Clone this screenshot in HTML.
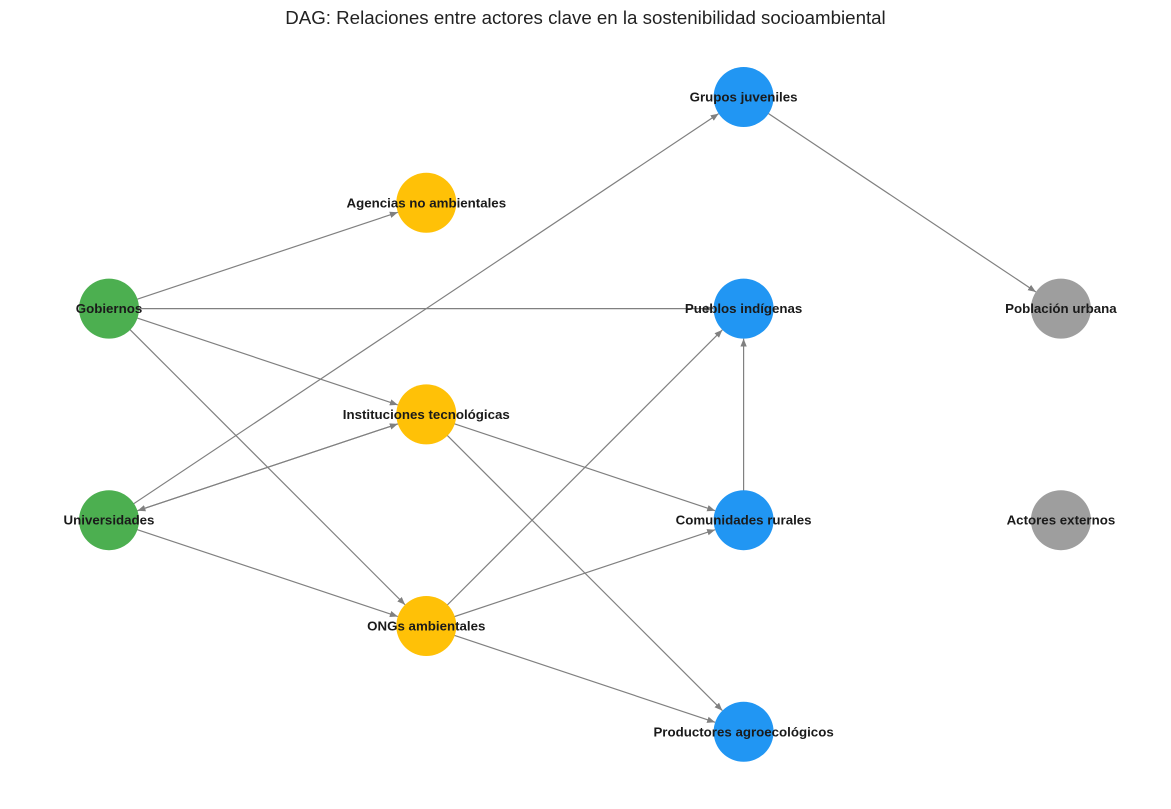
<!DOCTYPE html>
<html><head><meta charset="utf-8"><style>
html,body{margin:0;padding:0;background:#fff;}
svg{display:block;font-family:"Liberation Sans","DejaVu Sans",sans-serif;}
</style></head><body>
<svg id="chart" width="1171" height="809" viewBox="0 0 1171 809">
<defs><marker id="arr" viewBox="0 0 10 10" refX="10" refY="5" markerWidth="8" markerHeight="8" markerUnits="userSpaceOnUse" orient="auto"><path d="M0,1 L10,5 L0,9 z" fill="#808080"/></marker></defs>
<text x="585.5" y="24" text-anchor="middle" font-size="18.7" fill="#222">DAG: Relaciones entre actores clave en la sostenibilidad socioambiental</text>
<g id="edges"></g><g id="nodes"></g>
</svg>
<script>
const nodeNames = ["Gobiernos","Universidades","Agencias no ambientales","Instituciones tecnológicas","ONGs ambientales","Grupos juveniles","Pueblos indígenas","Comunidades rurales","Productores agroecológicos","Población urbana","Actores externos"];
const nodeLayer = [0,0,1,1,1,2,2,2,2,3,3];
const nodeRow = [2,4,1,3,5,0,2,4,6,2,4];
const nodeColors = ["#4CAF50","#4CAF50","#FFC107","#FFC107","#FFC107","#2196F3","#2196F3","#2196F3","#2196F3","#9E9E9E","#9E9E9E"];
const edgeFrom = [0,0,0,0,1,1,3,1,3,3,4,4,4,7,5];
const edgeTo   = [2,6,3,4,5,3,1,4,7,8,6,7,8,6,9];
const NS="http://www.w3.org/2000/svg";
const xs = l => 109 + l*317.3;
const ys = r => 97 + r*105.8;
const R = 30;
const eg = document.getElementById('edges'), ng = document.getElementById('nodes');
for (let i=0;i<edgeFrom.length;i++){
  const a=edgeFrom[i], b=edgeTo[i];
  const x1=xs(nodeLayer[a]), y1=ys(nodeRow[a]), x2=xs(nodeLayer[b]), y2=ys(nodeRow[b]);
  const d=Math.hypot(x2-x1,y2-y1), ux=(x2-x1)/d, uy=(y2-y1)/d;
  const l=document.createElementNS(NS,'line');
  l.setAttribute('x1',x1); l.setAttribute('y1',y1);
  l.setAttribute('x2',x2-ux*R); l.setAttribute('y2',y2-uy*R);
  l.setAttribute('stroke','#808080'); l.setAttribute('stroke-width','1.2');
  l.setAttribute('marker-end','url(#arr)');
  
  
  eg.appendChild(l);
}
for (let i=0;i<nodeNames.length;i++){
  const cx=xs(nodeLayer[i]), cy=ys(nodeRow[i]);
  const c=document.createElementNS(NS,'circle');
  c.setAttribute('cx',cx); c.setAttribute('cy',cy); c.setAttribute('r',R);
  c.setAttribute('fill',nodeColors[i]);
  
  
  ng.appendChild(c);
}
for (let i=0;i<nodeNames.length;i++){
  const t=document.createElementNS(NS,'text');
  t.setAttribute('x',xs(nodeLayer[i])); t.setAttribute('y',ys(nodeRow[i])+4.5);
  t.setAttribute('text-anchor','middle'); t.setAttribute('font-size','13.3');
  t.setAttribute('font-weight','bold'); t.setAttribute('fill','#1a1a1a');
  t.textContent=nodeNames[i];
  
  
  ng.appendChild(t);
}
</script>
</body></html>
